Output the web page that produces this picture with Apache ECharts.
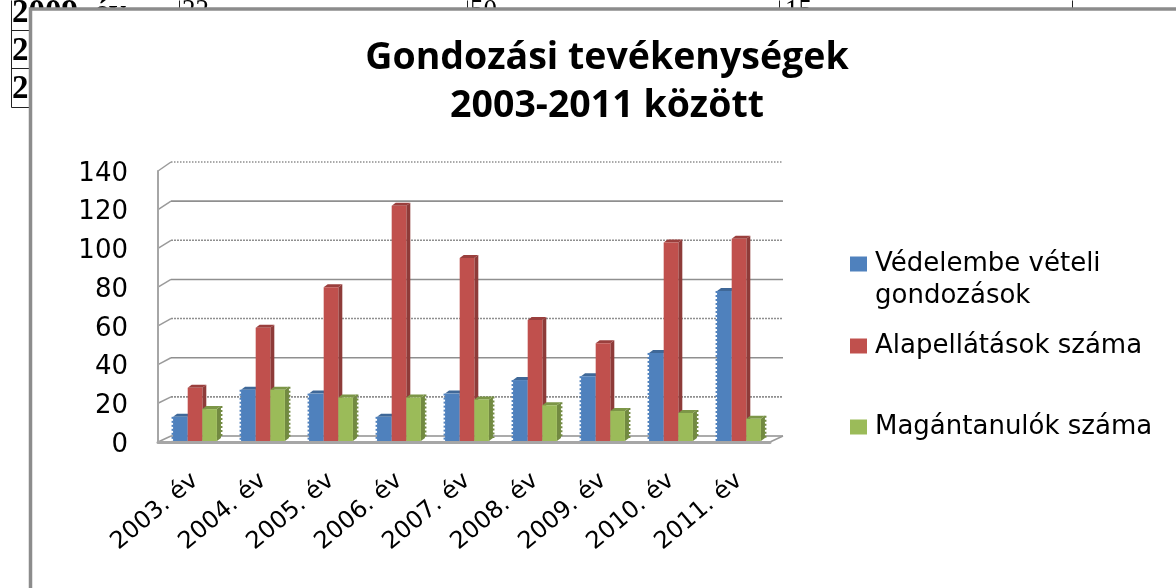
<!DOCTYPE html>
<html><head><meta charset="utf-8">
<style>html,body{margin:0;padding:0;background:#fff}#c{width:1176px;height:588px}</style>
<script src="https://cdn.jsdelivr.net/npm/echarts@6/dist/echarts.min.js"></script></head>
<body><div id="c"></div>
<script>
const categories=['2003. év','2004. év','2005. év','2006. év','2007. év','2008. év','2009. év','2010. év','2011. év'];
const seriesNames=['Védelembe vételi gondozások','Alapellátások száma','Magántanulók száma'];
const vedelembe=[13,27,25,13,25,32,34,46,78];
const alapellatas=[28,59,80,122,95,63,51,103,105];
const magantanulo=[17,27,23,23,22,19,16,15,12];
const yTicks=[0,20,40,60,80,100,120,140];
const titleLines='Gondozási tevékenységek\n2003-2011 között';
const tableRows=[['2009. év','22','50','15'],['2'],['2']];

const palette=[
 {front:'#4f81bd',top:'#3f6898',side:'#3a6090'},
 {front:'#c0504d',top:'#9a3f3d',side:'#8e3b39'},
 {front:'#9bbb59',top:'#7c9647',side:'#728a41'}
];
function barSeries(idx,values){
 const c=palette[idx];
 return {
  type:'custom',name:seriesNames[idx],coordinateSystem:'cartesian2d',z:5+idx,clip:false,
  itemStyle:{color:c.front},
  data:values.map((v,i)=>[i,v]),
  renderItem(params,api){
   const cat=api.value(0),val=api.value(1);
   const p=api.coord([cat,val]),b=api.coord([cat,0]);
   const band=api.size([1,0])[0],w=band*0.215;
   const x=p[0]+3+(idx-1.5)*w,yT=p[1],yB=b[1]-1,dx=4,dy=3;
   const dash=idx===1?null:[2,2];
   const children=[
    {type:'polygon',shape:{points:[[x+w,yT],[x+w+dx,yT-dy],[x+w+dx,yB-dy],[x+w,yB]]},style:{fill:c.side}},
    {type:'polygon',shape:{points:[[x,yT],[x+dx,yT-dy],[x+w+dx,yT-dy],[x+w,yT]]},style:{fill:c.top}},
    {type:'rect',shape:{x:x,y:yT,width:w,height:yB-yT},style:{fill:c.front}}
   ];
   if(idx===0)children.push({type:'line',shape:{x1:x-.5,y1:yT,x2:x-.5,y2:yB},style:{stroke:c.front,lineWidth:2,lineDash:dash}});
   if(idx===2)children.push({type:'line',shape:{x1:x+w+dx+.5,y1:yT-dy,x2:x+w+dx+.5,y2:yB-dy},style:{stroke:c.side,lineWidth:2,lineDash:dash}});
   return {type:'group',children};
  }
 };
}
const wallSeries={
 type:'custom',name:'wall',z:2,silent:true,clip:false,legendHoverLink:false,
 data:yTicks.map(v=>[0,v]),
 renderItem(params,api){
  const v=api.value(1);
  const p=api.coord([0,v]);
  const band=api.size([1,0])[0];
  const x0=p[0]-band/2,x1=x0+band*9;
  const dx=13,dy=6+3*v/140;
  return {type:'group',children:[
   {type:'line',shape:{x1:x0,y1:p[1],x2:x0+dx,y2:p[1]-dy},style:{stroke:'#9a9a9a',lineWidth:1.5}},
   {type:'line',shape:{x1:x0+dx,y1:p[1]-dy,x2:x1+dx,y2:p[1]-dy},
     style:{stroke:'#8f8f8f',lineWidth:1.6,lineDash:v===140?[1.5,1.5]:(v%40===20?[2,1]:null)}},
   ...(v===0?[{type:'line',shape:{x1:x1,y1:p[1],x2:x1+dx,y2:p[1]-dy},style:{stroke:'#9a9a9a',lineWidth:1.5}}]:[])
  ]};
 }
};
const tableText=[];
const serif='"Liberation Serif"';
tableRows.forEach((r,i)=>{
 tableText.push({type:'text',z:0,style:{text:r[0],x:12,y:[-3,35,73][i],font:'bold 33px '+serif,fill:'#000'}});
});
[[182,tableRows[0][1]],[470,tableRows[0][2]],[785,tableRows[0][3]]].forEach(a=>{
 tableText.push({type:'text',z:0,style:{text:a[1],x:a[0],y:-3,font:'27px '+serif,fill:'#000'}});
});
const tableLines=[[11,0,11,107],[11,30,30,30],[11,68,30,68],[11,107,30,107],[179,0,179,10],[467,0,467,10],[779,0,779,10],[1072,0,1072,10]]
 .map(l=>({type:'line',z:0,shape:{x1:l[0]+.5,y1:l[1]+.5,x2:l[2]+.5,y2:l[3]+.5},style:{stroke:'#222',lineWidth:1}}));

const chart=echarts.init(document.getElementById('c'),null,{renderer:'canvas'});
const legendFont={fontFamily:'DejaVu Sans',fontSize:26,color:'#000',lineHeight:32,padding:[0,0,0,3]};
function legendAt(name,top,fmt){
 return {show:true,z:6,data:[name],left:850,top,orient:'vertical',selectedMode:false,icon:'rect',itemWidth:17,itemHeight:15,itemGap:0,
  padding:0,textStyle:legendFont,formatter:fmt||(n=>n)};
}
chart.setOption({
 animation:false,backgroundColor:'#fff',
 title:{text:titleLines,left:602,top:29,textAlign:'center',z:6,
  textStyle:{fontFamily:'Open Sans',fontWeight:'bold',fontSize:37.5,lineHeight:48,color:'#000'}},
 graphic:[...tableText,...tableLines,
  {type:'rect',z:1,shape:{x:30.5,y:9,width:1300,height:700},style:{fill:'#fff',stroke:'#8c8c8c',lineWidth:3.5}},
 ],
 legend:[
  legendAt(seriesNames[0],216,()=>'\nVédelembe vételi\ngondozások'),
  legendAt(seriesNames[1],330),
  legendAt(seriesNames[2],411)
 ],
 grid:{left:158,top:171,width:612,height:271,containLabel:false},
 xAxis:{type:'category',data:categories,z:3,
  axisLine:{lineStyle:{color:'#a6a6a6',width:3}},axisTick:{show:false},
  axisLabel:{rotate:40,interval:0,margin:32,formatter:v=>'{a|'+v+'}',
   rich:{a:{padding:[10,0,0,0],fontFamily:'DejaVu Sans',fontSize:24,color:'#000'}}}},
 yAxis:{type:'value',min:0,max:140,interval:20,z:3,
  axisLine:{show:true,lineStyle:{color:'#a6a6a6',width:2}},axisTick:{show:false},splitLine:{show:false},
  axisLabel:{margin:30,formatter:v=>'{a|'+v+'}',
   rich:{a:{padding:[6,0,0,0],fontFamily:'DejaVu Sans',fontSize:26,color:'#000'}}}},
 series:[wallSeries,barSeries(0,vedelembe),barSeries(1,alapellatas),barSeries(2,magantanulo)]
});
</script></body></html>
